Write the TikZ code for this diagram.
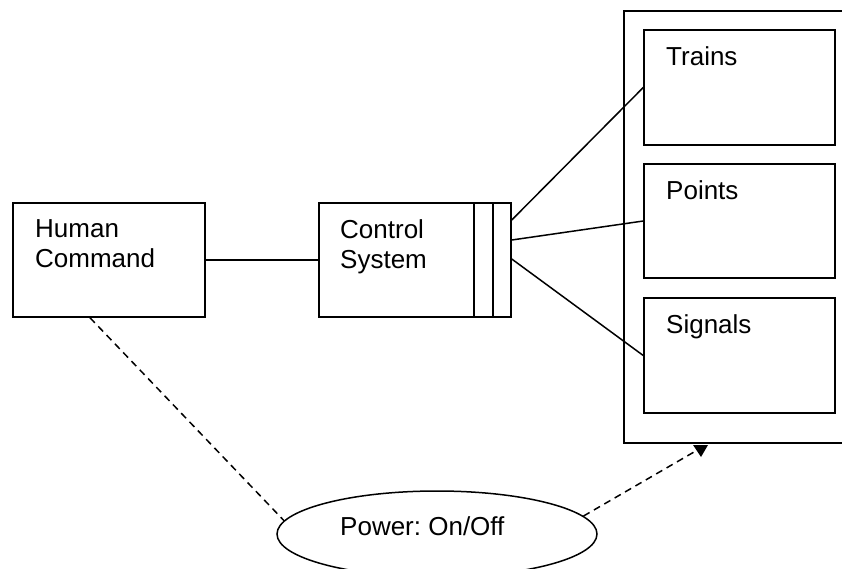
\documentclass[tikz,border=0pt]{standalone}
\usepackage{fontspec}
\setmainfont{Liberation Sans}
\usetikzlibrary{shapes.geometric}
\frenchspacing

\tikzset{
  boxstyle/.style={draw, line width=1.5pt, rectangle, inner sep=0pt},
  lbl/.style={anchor=base west, inner sep=0pt, align=left,
              font=\fontsize{26}{30}\selectfont},
  wire/.style={line width=1.5pt},
  dashwire/.style={line width=1.5pt, dash pattern=on 7pt off 5pt},
}

\begin{document}
\begin{tikzpicture}[x=1pt, y=-1pt]
  \useasboundingbox (0,0) rectangle (842,568);

  % enclosing frame of the controlled equipment (open towards the right)
  \draw[wire] (850,11) -- (624,11) -- (624,443) -- (850,443);

  % blocks
  \node[boxstyle, minimum width=192pt, minimum height=114pt] (hc) at (109,260) {};
  \node[boxstyle, minimum width=192pt, minimum height=114pt] (cs) at (415,260) {};
  \node[boxstyle, minimum width=191pt, minimum height=115pt] (trains)  at (739.5,87.5) {};
  \node[boxstyle, minimum width=191pt, minimum height=114pt] (points)  at (739.5,221) {};
  \node[boxstyle, minimum width=191pt, minimum height=115pt] (signals) at (739.5,355.5) {};

  % interface strips on the control system
  \draw[wire] ([xshift=-38pt]cs.north east) -- ([xshift=-38pt]cs.south east);
  \draw[wire] ([xshift=-19pt]cs.north east) -- ([xshift=-19pt]cs.south east);

  % power supply
  \node[draw, ellipse, line width=1.5pt, minimum width=320pt, minimum height=86pt,
        inner sep=0pt] (pw) at (437,534) {};

  % labels (base anchor sits on the last line of a two-line label)
  \node[lbl] (hc-t)      at (35,267)  {Human\\Command};
  \node[lbl] (cs-t)      at (340,268) {Control\\System};
  \node[lbl] (trains-t)  at (666,65)  {Trains};
  \node[lbl] (points-t)  at (666,199) {Points};
  \node[lbl] (signals-t) at (666,333) {Signals};
  \node[lbl] (pw-t)      at (340,535) {Power: On/Off};

  % connections
  \draw[wire] (hc.east) -- (cs.west);
  \draw[wire] ([yshift=40pt]cs.east) -- (trains.west);
  \draw[wire] ([yshift=20pt]cs.east) -- (points.west);
  \draw[wire] ([yshift=1pt]cs.east)  -- (signals.west);

  % power links
  \coordinate (tip) at (701,457);
  \coordinate (pw-end) at (694,452);
  \draw[dashwire] ([xshift=-19pt]hc.south) -- (pw.175);
  \draw[dashwire] (pw.7) -- (pw-end);
  \fill (tip) -- ++(-8,-12) -- ++(15,0) -- cycle;
\end{tikzpicture}
\end{document}
